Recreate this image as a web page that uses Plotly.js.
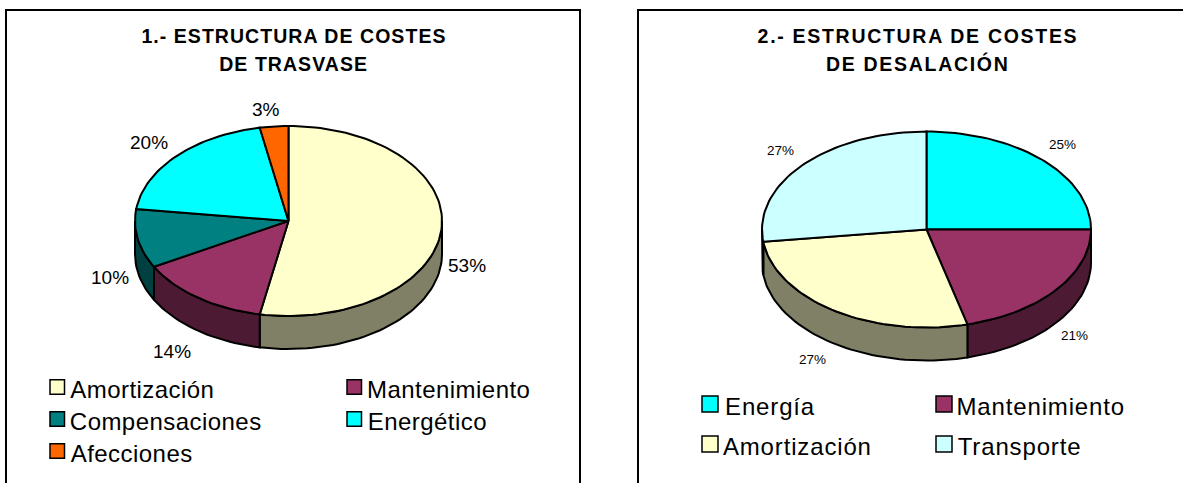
<!DOCTYPE html>
<html>
<head>
<meta charset="utf-8">
<script src="https://cdn.plot.ly/plotly-3.0.1.min.js"></script>
<style>html,body{margin:0;padding:0;background:#fff;overflow:hidden}#chart{width:1183px;height:483px}</style>
</head>
<body>
<div id="chart"></div>
<script>
// ---- data ----
const labels1 = ["Amortización", "Mantenimiento", "Compensaciones", "Energético", "Afecciones"];
const values1 = [53, 14, 10, 20, 3];
const colors1 = ["#FFFFCC", "#993366", "#008080", "#00FFFF", "#FF6600"];
const sides1  = ["#808066", "#4D1A33", "#004040", "#008080", "#803300"];
const title1  = ["1.- ESTRUCTURA DE COSTES", "DE TRASVASE"];

const labels2 = ["Energía", "Mantenimiento", "Amortización", "Transporte"];
const values2 = [25, 21, 27, 27];
const colors2 = ["#00FFFF", "#993366", "#FFFFCC", "#CCFFFF"];
const sides2  = ["#008080", "#4D1A33", "#808066", "#668080"];
const title2  = ["2.- ESTRUCTURA DE COSTES", "DE DESALACIÓN"];

// ---- layout constants (pixels of the 1183x483 page) ----
const W = 1183, H = 483;
const pie1 = {cx:288.5, cy:221, rx:153.5, ry:95, depth:33, left:6, right:580, xa:"x", ya:"y"};
const pie2 = {cx:926.5, cy:229.5, rx:164.5, ry:98, depth:33, left:638, right:1183, xa:"x2", ya:"y2"};
const pctPos1 = [[467,265],[172,351],[110,277],[149,142],[266,109]];
const pctPos2 = [[1062,145],[1074,335],[812,359],[780,151]];
const legPos1 = [[50,387],[347,387],[50,419],[347,419],[50,451]];
const legPos2 = [[702,404],[936,404],[702,444],[936,444]];
const titleY1 = [36,64], titleY2 = [36,64];
const FONT = "Liberation Sans, Arial, sans-serif";

const px = x => x / W, py = y => 1 - y / H;
const traces = [], annotations = [], shapes = [], spacingRules = [];

function arc(a0, a1, yOff) {
  const n = Math.max(2, Math.ceil((a1 - a0) / (Math.PI / 90)));
  const xs = [], ys = [];
  for (let i = 0; i <= n; i++) {
    const a = a0 + (a1 - a0) * i / n;
    xs.push(Math.sin(a)); ys.push(Math.cos(a) - yOff);
  }
  return [xs, ys];
}

function drawPie(p, labels, values, colors, sides) {
  const total = values.reduce((s, v) => s + v, 0);
  const d = p.depth / p.ry;
  const tops = [];
  let cum = 0;
  values.forEach((v, i) => {
    const a0 = cum / total * 2 * Math.PI;
    cum += v;
    const a1 = cum / total * 2 * Math.PI;
    tops.push([a0, a1, i]);
    const s0 = Math.max(a0, Math.PI / 2), s1 = Math.min(a1, 1.5 * Math.PI);
    if (s1 > s0) {
      const [ux, uy] = arc(s0, s1, 0), [lx, ly] = arc(s0, s1, d);
      traces.push({type:"scatter", mode:"lines", xaxis:p.xa, yaxis:p.ya,
        x: ux.concat(lx.reverse(), [ux[0]]), y: uy.concat(ly.reverse(), [uy[0]]),
        fill:"toself", fillcolor:sides[i], line:{color:"#000", width:2},
        name:labels[i], showlegend:false, hoverinfo:"skip"});
    }
  });
  tops.forEach(([a0, a1, i]) => {
    const [ax, ay] = arc(a0, a1, 0);
    traces.push({type:"scatter", mode:"lines", xaxis:p.xa, yaxis:p.ya,
      x:[0].concat(ax, [0]), y:[0].concat(ay, [0]),
      fill:"toself", fillcolor:colors[i], line:{color:"#000", width:2},
      name:labels[i], showlegend:false, hoverinfo:"name"});
  });
  shapes.push({type:"rect", xref:"paper", yref:"paper", x0:px(p.left), x1:px(p.right + (p.right >= W ? 10 : 0)),
    y0:-0.1, y1:py(10), line:{color:"#000", width:2}, fillcolor:"rgba(0,0,0,0)", layer:"above"});
}

function addText(text, x, y, size, anchor, bold, spacing) {
  if (spacing) spacingRules.push('.annotation[data-index="' + annotations.length + '"] text{letter-spacing:' + spacing + 'px}');
  annotations.push({xref:"paper", yref:"paper", x:px(x), y:py(y), text: bold ? "<b>" + text + "</b>" : text,
    showarrow:false, xanchor:anchor, yanchor:"middle", borderpad:0,
    font:{family:FONT, size:size, color:"#000"}});
}

function dressPie(title, titleY, titleX, titleSpacing, values, pctPos, pctSize, labels, colors, legPos, legSize, legSpacing, swatch, gap) {
  title.forEach((t, i) => addText(t, titleX, titleY[i], 19.5, "center", true, titleSpacing));
  values.forEach((v, i) => addText(v + "%", pctPos[i][0], pctPos[i][1], pctSize, "center", false, 0));
  labels.forEach((l, i) => {
    const [x, y] = legPos[i];
    shapes.push({type:"rect", xref:"paper", yref:"paper", x0:px(x), x1:px(x + swatch),
      y0:py(y + swatch / 2), y1:py(y - swatch / 2), fillcolor:colors[i], line:{color:"#000", width:1.5}});
    addText(l, x + swatch + gap, y + 2, legSize, "left", false, legSpacing);
  });
}

drawPie(pie1, labels1, values1, colors1, sides1);
drawPie(pie2, labels2, values2, colors2, sides2);
dressPie(title1, titleY1, 293.5, 1.05, values1, pctPos1, 19, labels1, colors1, legPos1, 24, 0.45, 14.5, 7.5);
dressPie(title2, titleY2, 917.5, 1.7, values2, pctPos2, 13.5, labels2, colors2, legPos2, 24, 0.85, 16, 9);

const styleEl = document.createElement("style");
styleEl.textContent = spacingRules.join("\n");
document.head.appendChild(styleEl);

function axes(p) {
  const x = {domain:[px(p.left), Math.min(1, px(p.right))], range:[(p.left - p.cx) / p.rx, (p.right - p.cx) / p.rx],
    visible:false, fixedrange:true};
  const y = {domain:[0, 1], range:[(p.cy - H) / p.ry, p.cy / p.ry], visible:false, fixedrange:true};
  return [x, y];
}
const [xa1, ya1] = axes(pie1), [xa2, ya2] = axes(pie2);
ya2.anchor = "x2"; xa2.anchor = "y2";

Plotly.newPlot("chart", traces, {
  width:W, height:H, margin:{l:0, r:0, t:0, b:0}, showlegend:false,
  paper_bgcolor:"#fff", plot_bgcolor:"rgba(0,0,0,0)",
  xaxis:xa1, yaxis:ya1, xaxis2:xa2, yaxis2:ya2,
  shapes:shapes, annotations:annotations
}, {displayModeBar:false, staticPlot:true});
</script>
</body>
</html>
